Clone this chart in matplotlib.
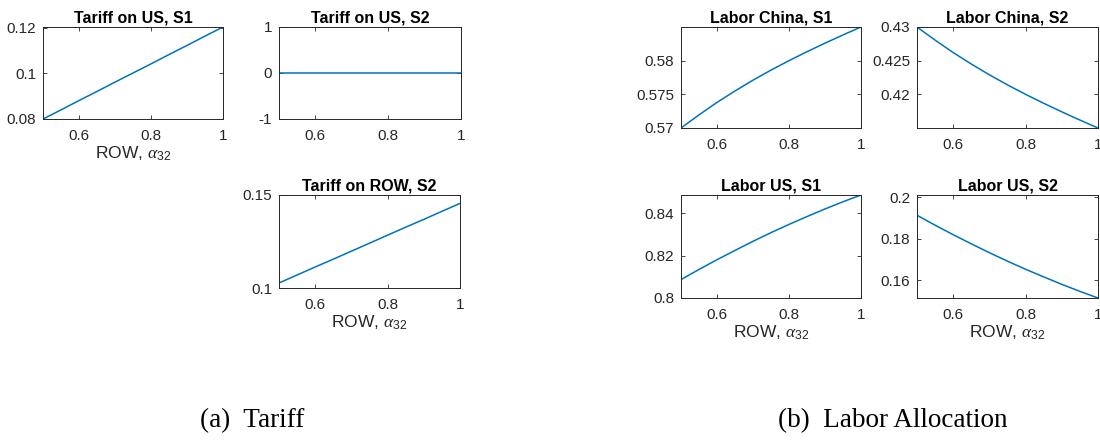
import numpy as np
import matplotlib
matplotlib.use("Agg")
import matplotlib.pyplot as plt
from matplotlib.ticker import FuncFormatter

plt.rcParams['font.family'] = ['Liberation Sans', 'DejaVu Sans']
plt.rcParams['mathtext.fontset'] = 'custom'
plt.rcParams['mathtext.rm'] = 'Liberation Sans'
plt.rcParams['mathtext.it'] = 'Liberation Serif:italic'
plt.rcParams['mathtext.bf'] = 'Liberation Sans:bold'

# ---- data ----
alpha = [0.5, 0.55, 0.6, 0.65, 0.7, 0.75, 0.8, 0.85, 0.9, 0.95, 1.0]
tariff_us_s1 = [0.0800, 0.0840, 0.0881, 0.0921, 0.0962, 0.1002, 0.1042, 0.1083, 0.1123, 0.1164, 0.1204]
tariff_us_s2 = [0.0] * 11
tariff_row_s2 = [0.1027, 0.1070, 0.1113, 0.1155, 0.1198, 0.1241, 0.1284, 0.1327, 0.1369, 0.1412, 0.1455]
labor_china_s1 = [0.5700, 0.57195, 0.5738, 0.5755, 0.5771, 0.5786, 0.5800, 0.58133, 0.5826, 0.58382, 0.5850]
labor_china_s2 = [0.4300, 0.42805, 0.4262, 0.4245, 0.4229, 0.4214, 0.4200, 0.41867, 0.4174, 0.41618, 0.4150]
labor_us_s1 = [0.8087, 0.8135, 0.8181, 0.8225, 0.8268, 0.8309, 0.8348, 0.8385, 0.8421, 0.8455, 0.8487]
labor_us_s2 = [0.1913, 0.1865, 0.1819, 0.1775, 0.1732, 0.1691, 0.1652, 0.1615, 0.1579, 0.1545, 0.1513]

xticks = [0.6, 0.8, 1.0]
xlabel = r'ROW, $\alpha_{32}$'
captions = ['(a)  Tariff', '(b)  Labor Allocation']

panels = [
    # title, series, ylim, yticks, has xlabel, pixel box (x0, x1, ytop, ybottom)
    ('Tariff on US, S1', tariff_us_s1, (0.0800, 0.1204), [0.08, 0.1, 0.12], True, (43, 223, 27, 119)),
    ('Tariff on US, S2', tariff_us_s2, (-1, 1), [-1, 0, 1], False, (279, 461, 27, 119)),
    ('Tariff on ROW, S2', tariff_row_s2, (0.1, 0.15), [0.1, 0.15], True, (279, 460, 195, 288)),
    ('Labor China, S1', labor_china_s1, (0.5700, 0.5850), [0.57, 0.575, 0.58], False, (681, 861, 27, 128)),
    ('Labor China, S2', labor_china_s2, (0.4150, 0.4300), [0.42, 0.425, 0.43], False, (917, 1098, 27, 128)),
    ('Labor US, S1', labor_us_s1, (0.8, 0.8487), [0.8, 0.82, 0.84], True, (681, 861, 195, 298)),
    ('Labor US, S2', labor_us_s2, (0.1513, 0.2011), [0.16, 0.18, 0.2], True, (917, 1098, 195, 298)),
]

W, H = 1100, 441
fig = plt.figure(figsize=(W / 100, H / 100), dpi=100)
axcol = '#262626'
fmt = FuncFormatter(lambda v, p: ('%g' % round(v, 6)))

for title, ys, ylim, yt, has_xl, (x0, x1, yt0, yb) in panels:
    ax = fig.add_axes([x0 / W, 1 - yb / H, (x1 - x0) / W, (yb - yt0) / H])
    ax.plot(alpha, ys, color='#0072BD', lw=1.1, solid_capstyle='butt')
    ax.set_xlim(0.5, 1.0)
    ax.set_ylim(*ylim)
    ax.set_xticks(xticks)
    ax.set_yticks(yt)
    ax.xaxis.set_major_formatter(fmt)
    ax.yaxis.set_major_formatter(fmt)
    ax.tick_params(direction='in', top=True, right=True, length=3, width=0.6,
                   colors=axcol, labelsize=11)
    ax.tick_params(axis='x', pad=7.5)
    ax.tick_params(axis='y', pad=5)
    for s in ax.spines.values():
        s.set_color(axcol)
        s.set_linewidth(0.7)
    ax.set_title(title, fontsize=11.5, fontweight='bold', pad=3.5, color='black')
    if has_xl:
        ax.set_xlabel(xlabel, fontsize=12.5, color=axcol, labelpad=1)

fig.text(252 / W, 1 - 421 / H, captions[0], ha='center', va='center',
         fontsize=19.5, family='Liberation Serif', color='black')
fig.text(893 / W, 1 - 421 / H, captions[1], ha='center', va='center',
         fontsize=19.5, family='Liberation Serif', color='black')

fig.savefig('out.png', dpi=100, facecolor='white')
